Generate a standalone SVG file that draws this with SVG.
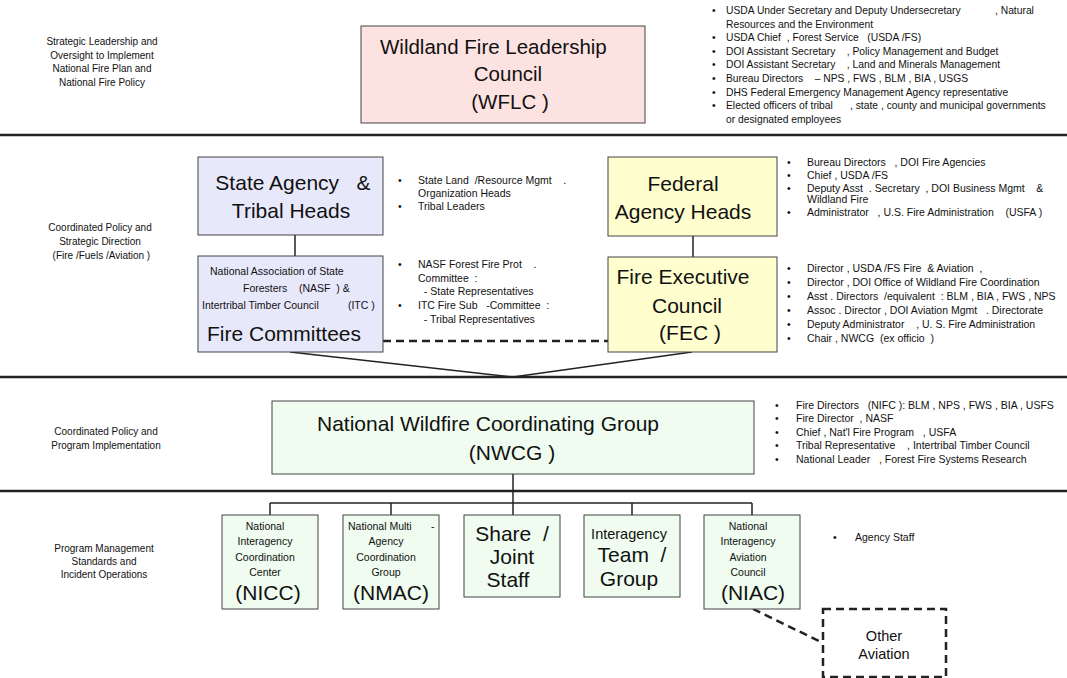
<svg xmlns="http://www.w3.org/2000/svg" width="1067" height="678" viewBox="0 0 1067 678">
<style>
text{font-family:"Liberation Sans",Arial,sans-serif;fill:#111;white-space:pre}
.lbl{font-size:10px;text-anchor:middle}
.bl{font-size:10.5px}
.bt{font-size:10.3px}
.big{font-size:21px}
.mid{font-size:14.5px}
.sm{font-size:10.5px}
.c{text-anchor:middle}
.sep{stroke:#222;stroke-width:2.5}
.con{stroke:#222;stroke-width:1.5;fill:none}
.dash{stroke:#222;stroke-width:2.5;stroke-dasharray:8 5;fill:none}
.box{stroke:#444;stroke-width:1}
.pink{fill:#fde2e2}
.lav{fill:#e8e8fb}
.yel{fill:#fefecf}
.grn{fill:#effcef}
</style>
<g id="separators">
<line class="sep" x1="0" y1="135" x2="1067" y2="135"/>
<line class="sep" x1="0" y1="377" x2="1067" y2="377"/>
<line class="sep" x1="0" y1="491" x2="1067" y2="491"/>
</g>
<g id="tier-labels">
<text class="lbl" x="102" y="45">Strategic Leadership and</text>
<text class="lbl" x="102" y="58.5">Oversight to Implement</text>
<text class="lbl" x="102" y="72">National Fire Plan and</text>
<text class="lbl" x="102" y="85.5">National Fire Policy</text>
<text class="lbl" x="100" y="231">Coordinated Policy and</text>
<text class="lbl" x="100" y="245">Strategic Direction</text>
<text class="lbl" x="100" y="259"> (Fire /Fuels /Aviation )</text>
<text class="lbl" x="106" y="434.5">Coordinated Policy and</text>
<text class="lbl" x="106" y="448.5">Program Implementation</text>
<text class="lbl" x="104" y="551.5">Program Management</text>
<text class="lbl" x="104" y="564.5">Standards and</text>
<text class="lbl" x="104" y="577.5">Incident Operations</text>
</g>
<g id="connectors">
<line class="con" x1="295" y1="235" x2="295" y2="256"/>
<line class="con" x1="693" y1="236" x2="693" y2="257"/>
<line class="dash" x1="383" y1="341" x2="608" y2="341"/>
<polyline class="con" points="290,352 513,377 692,352"/>
<line class="con" x1="513" y1="474" x2="513" y2="515"/>
<line class="con" x1="270" y1="503" x2="752" y2="503"/>
<line class="con" x1="270" y1="503" x2="270" y2="515"/>
<line class="con" x1="391" y1="503" x2="391" y2="515"/>
<line class="con" x1="632" y1="503" x2="632" y2="515"/>
<line class="con" x1="752" y1="503" x2="752" y2="515"/>
<line class="dash" x1="753" y1="609" x2="823" y2="643"/>
</g>
<g id="wflc">
<rect class="box pink" x="361" y="26" width="284" height="97"/>
<text class="big" x="380" y="54" style="font-size:20.5px">Wildland Fire Leadership</text>
<text class="big c" x="508" y="81" style="font-size:20.5px">Council</text>
<text class="big c" x="510" y="109" style="font-size:20.5px">(WFLC )</text>
</g>
<g id="wflc-members">
<text class="bt" x="712" y="14">•</text>
<text class="bt" x="726" y="14">USDA Under Secretary and Deputy Undersecretary            , Natural</text>
<text class="bt" x="726" y="27.6">Resources and the Environment</text>
<text class="bt" x="712" y="41.2">•</text>
<text class="bt" x="726" y="41.2">USDA Chief  , Forest Service   (USDA /FS)</text>
<text class="bt" x="712" y="54.8">•</text>
<text class="bt" x="726" y="54.8">DOI Assistant Secretary    , Policy Management and Budget</text>
<text class="bt" x="712" y="68.4">•</text>
<text class="bt" x="726" y="68.4">DOI Assistant Secretary    , Land and Minerals Management</text>
<text class="bt" x="712" y="82">•</text>
<text class="bt" x="726" y="82">Bureau Directors    – NPS , FWS , BLM , BIA , USGS</text>
<text class="bt" x="712" y="95.6">•</text>
<text class="bt" x="726" y="95.6">DHS Federal Emergency Management Agency representative</text>
<text class="bt" x="712" y="109.2">•</text>
<text class="bt" x="726" y="109.2">Elected officers of tribal      , state , county and municipal governments</text>
<text class="bt" x="726" y="122.8">or designated employees</text>
</g>
<g id="state-tribal">
<rect class="box lav" x="198" y="157" width="185" height="78"/>
<text class="big c" x="293" y="190">State Agency   &amp;</text>
<text class="big c" x="291" y="218">Tribal Heads</text>
</g>
<g id="state-tribal-members">
<text class="bl" x="398" y="184">•</text>
<text class="bl" x="418" y="184">State Land  /Resource Mgmt    .</text>
<text class="bl" x="418" y="197">Organization Heads</text>
<text class="bl" x="398" y="210">•</text>
<text class="bl" x="418" y="210">Tribal Leaders</text>
</g>
<g id="fire-committees">
<rect class="box lav" x="198" y="256" width="185" height="96"/>
<text class="sm" x="210" y="275">National Association of State</text>
<text class="sm" x="243" y="292">Foresters    (NASF  ) &amp;</text>
<text class="sm" x="202" y="308.5">Intertribal Timber Council          (ITC )</text>
<text class="big" x="207" y="341">Fire Committees</text>
</g>
<g id="fire-committees-members">
<text class="bl" x="398" y="268">•</text>
<text class="bl" x="418" y="268">NASF Forest Fire Prot    .</text>
<text class="bl" x="418" y="282">Committee  :</text>
<text class="bl" x="418" y="295">  - State Representatives</text>
<text class="bl" x="398" y="309">•</text>
<text class="bl" x="418" y="309">ITC Fire Sub   -Committee  :</text>
<text class="bl" x="418" y="323">  - Tribal Representatives</text>
</g>
<g id="federal-heads">
<rect class="box yel" x="608" y="157" width="169" height="79"/>
<text class="big c" x="683" y="191">Federal</text>
<text class="big c" x="683" y="219">Agency Heads</text>
</g>
<g id="federal-heads-members">
<text class="bl" x="787" y="165.5">•</text>
<text class="bl" x="807" y="165.5">Bureau Directors   , DOI Fire Agencies</text>
<text class="bl" x="787" y="178.5">•</text>
<text class="bl" x="807" y="178.5">Chief , USDA /FS</text>
<text class="bl" x="787" y="191.5">•</text>
<text class="bl" x="807" y="191.5">Deputy Asst  . Secretary  , DOI Business Mgmt    &amp;</text>
<text class="bl" x="807" y="203">Wildland Fire</text>
<text class="bl" x="787" y="216">•</text>
<text class="bl" x="807" y="216">Administrator   , U.S. Fire Administration    (USFA )</text>
</g>
<g id="fec">
<rect class="box yel" x="608" y="257" width="169" height="95"/>
<text class="big c" x="683" y="284">Fire Executive</text>
<text class="big c" x="687" y="312.5">Council</text>
<text class="big c" x="690" y="340">(FEC )</text>
</g>
<g id="fec-members">
<text class="bl" x="787" y="271.5">•</text>
<text class="bl" x="807" y="271.5">Director , USDA /FS Fire  &amp; Aviation  ,</text>
<text class="bl" x="787" y="285.5">•</text>
<text class="bl" x="807" y="285.5">Director , DOI Office of Wildland Fire Coordination</text>
<text class="bl" x="787" y="299.5">•</text>
<text class="bl" x="807" y="299.5">Asst . Directors  /equivalent  : BLM , BIA , FWS , NPS</text>
<text class="bl" x="787" y="313.5">•</text>
<text class="bl" x="807" y="313.5">Assoc . Director , DOI Aviation Mgmt   . Directorate</text>
<text class="bl" x="787" y="327.5">•</text>
<text class="bl" x="807" y="327.5">Deputy Administrator    , U. S. Fire Administration</text>
<text class="bl" x="787" y="341.5">•</text>
<text class="bl" x="807" y="341.5">Chair , NWCG  (ex officio  )</text>
</g>
<g id="nwcg">
<rect class="box grn" x="272" y="401" width="482" height="73"/>
<text class="big" x="317" y="430.5">National Wildfire Coordinating Group</text>
<text class="big c" x="512" y="459.5">(NWCG )</text>
</g>
<g id="nwcg-members">
<text class="bl" x="775" y="408.5">•</text>
<text class="bl" x="796" y="408.5">Fire Directors   (NIFC ): BLM , NPS , FWS , BIA , USFS</text>
<text class="bl" x="775" y="421.5">•</text>
<text class="bl" x="796" y="421.5">Fire Director  , NASF</text>
<text class="bl" x="775" y="435.5">•</text>
<text class="bl" x="796" y="435.5">Chief , Nat'l Fire Program   , USFA</text>
<text class="bl" x="775" y="448.5">•</text>
<text class="bl" x="796" y="448.5">Tribal Representative    , Intertribal Timber Council</text>
<text class="bl" x="775" y="462.5">•</text>
<text class="bl" x="796" y="462.5">National Leader   , Forest Fire Systems Research</text>
</g>
<g id="nicc">
<rect class="box grn" x="222" y="515" width="96" height="94"/>
<text class="sm c" x="265" y="529.5">National</text>
<text class="sm c" x="265" y="545">Interagency</text>
<text class="sm c" x="265" y="560.5">Coordination</text>
<text class="sm c" x="265" y="576">Center</text>
<text class="big c" x="268" y="600">(NICC)</text>
</g>
<g id="nmac">
<rect class="box grn" x="343" y="515" width="96" height="94"/>
<text class="sm" x="348" y="529.5">National Multi</text>
<text class="sm" x="431" y="529.5">-</text>
<text class="sm c" x="386" y="545">Agency</text>
<text class="sm c" x="386" y="560.5">Coordination</text>
<text class="sm c" x="386" y="576">Group</text>
<text class="big c" x="391" y="600">(NMAC)</text>
</g>
<g id="share-joint-staff">
<rect class="box grn" x="464" y="515" width="96" height="82"/>
<text class="big c" x="512" y="541">Share  /</text>
<text class="big c" x="512" y="564">Joint</text>
<text class="big c" x="508" y="587">Staff</text>
</g>
<g id="interagency-team">
<rect class="box grn" x="584" y="515" width="96" height="82"/>
<text class="mid c" x="629" y="539">Interagency</text>
<text class="big c" x="632" y="562">Team  /</text>
<text class="big c" x="629" y="585.5">Group</text>
</g>
<g id="niac">
<rect class="box grn" x="704" y="515" width="96" height="94"/>
<text class="sm c" x="748" y="529.5">National</text>
<text class="sm c" x="748" y="545">Interagency</text>
<text class="sm c" x="748" y="560.5">Aviation</text>
<text class="sm c" x="748" y="576">Council</text>
<text class="big c" x="753" y="600">(NIAC)</text>
</g>
<g id="niac-members">
<text class="bl" x="833" y="541">•</text>
<text class="bl" x="855" y="541">Agency Staff</text>
</g>
<g id="other-aviation">
<rect x="823" y="609" width="123" height="68" fill="#fff" stroke="#222" stroke-width="2.5" stroke-dasharray="8 5"/>
<text class="mid c" x="884" y="641">Other</text>
<text class="mid c" x="884" y="659">Aviation</text>
</g>
</svg>
